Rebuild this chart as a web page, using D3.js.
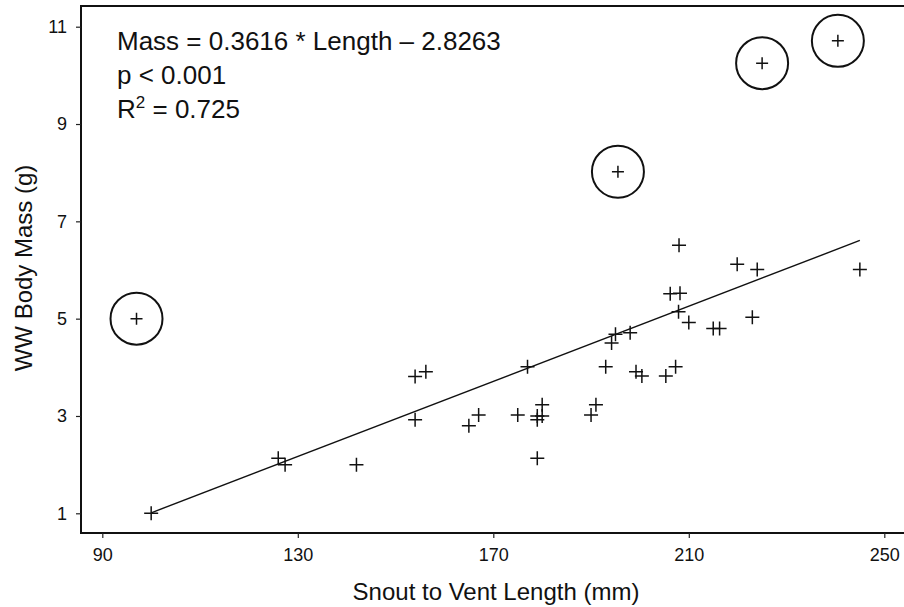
<!DOCTYPE html>
<html>
<head>
<meta charset="utf-8">
<script src="https://cdn.jsdelivr.net/npm/d3@7"></script>
<style>
  body { margin: 0; background: #fff; }
  text { font-family: "Liberation Sans", Arial, sans-serif; fill: #111; }
</style>
</head>
<body>
<script>
// snout-vent length (mm) and wet-weight body mass (g)
const lengthMm = [100, 126, 127.4, 142, 154, 156.2, 154, 165, 167, 175, 177, 179, 179, 180, 180, 179,
  190, 191, 193, 194.2, 195, 198, 199.2, 200.4, 205.3, 207.3, 206.2, 208.2, 208, 207.9, 210, 215, 216.3,
  219.9, 224, 223, 245];
const massG = [1.0, 2.13, 2.0, 2.0, 3.81, 3.91, 2.92, 2.8, 3.02, 3.02, 4.01, 3.0, 2.92, 3.23, 3.0, 2.13,
  3.02, 3.23, 4.01, 4.5, 4.68, 4.71, 3.91, 3.82, 3.82, 4.01, 5.51, 5.52, 6.51, 5.14, 4.92, 4.8, 4.8,
  6.12, 6.01, 5.03, 6.01];

// circled outliers
const outlierLength = [97, 195.5, 225, 240.5];
const outlierMass = [5.0, 8.02, 10.25, 10.71];

// fitted line as drawn on the figure
const fitRange = [100, 245];
const fitSlope = 0.0386;
const fitIntercept = -2.85;

const xTicks = [90, 130, 170, 210, 250];
const yTicks = [1, 3, 5, 7, 9, 11];
const statLines = ["Mass = 0.3616 * Length \u2013 2.8263", "p < 0.001"];

const width = 904, height = 607;
const frame = {left: 81, top: 6, right: 912, bottom: 533};

const svg = d3.select("body").append("svg")
  .attr("width", width)
  .attr("height", height);

const x = d3.scaleLinear().domain([90, 250]).range([102.3, 884.3]);
const y = d3.scaleLinear().domain([1, 11]).range([513.3, 26.7]);

// frame (right side runs past the edge of the picture)
svg.append("path")
  .attr("d", `M${frame.right},${frame.top}H${frame.left}V${frame.bottom}H${frame.right}`)
  .attr("fill", "none")
  .attr("stroke", "#111")
  .attr("stroke-width", 2);

// axes
const xAxis = svg.append("g")
  .attr("transform", `translate(0,${frame.bottom})`)
  .call(d3.axisBottom(x).tickValues(xTicks).tickSize(5).tickPadding(10));
const yAxis = svg.append("g")
  .attr("transform", `translate(${frame.left},0)`)
  .call(d3.axisLeft(y).tickValues(yTicks).tickSize(5).tickPadding(9));

[xAxis, yAxis].forEach(g => {
  g.select(".domain").remove();
  g.selectAll(".tick line").attr("stroke", "#222").attr("stroke-width", 1.2);
  g.selectAll(".tick text")
    .style("font-family", '"Liberation Sans", Arial, sans-serif')
    .style("font-size", "18px")
    .attr("fill", "#111");
});

// axis titles
svg.append("text")
  .attr("x", 496)
  .attr("y", 600)
  .attr("text-anchor", "middle")
  .style("font-size", "24px")
  .text("Snout to Vent Length (mm)");

svg.append("text")
  .attr("transform", "translate(32,268) rotate(-90)")
  .attr("text-anchor", "middle")
  .style("font-size", "24px")
  .text("WW Body Mass (g)");

// regression line
svg.append("line")
  .attr("x1", x(fitRange[0]))
  .attr("y1", y(fitSlope * fitRange[0] + fitIntercept))
  .attr("x2", x(fitRange[1]))
  .attr("y2", y(fitSlope * fitRange[1] + fitIntercept))
  .attr("stroke", "#111")
  .attr("stroke-width", 1.4);

// plus markers
function plus(g, xs, ys, size) {
  const h = size / 2;
  g.selectAll(null)
    .data(d3.range(xs.length))
    .enter().append("path")
    .attr("d", i => {
      const cx = x(xs[i]), cy = y(ys[i]);
      return `M${cx - h},${cy}H${cx + h}M${cx},${cy - h}V${cy + h}`;
    })
    .attr("stroke", "#111")
    .attr("stroke-width", 1.5)
    .attr("fill", "none");
}

const pts = svg.append("g").attr("class", "points");
plus(pts, lengthMm, massG, 14);

const outs = svg.append("g").attr("class", "outliers");
plus(outs, outlierLength, outlierMass, 12);
outs.selectAll("circle")
  .data(d3.range(outlierLength.length))
  .enter().append("circle")
  .attr("cx", i => x(outlierLength[i]))
  .attr("cy", i => y(outlierMass[i]))
  .attr("r", 26)
  .attr("fill", "none")
  .attr("stroke", "#111")
  .attr("stroke-width", 2);

// stats text
const stats = svg.append("g").style("font-size", "26px");
stats.selectAll(null)
  .data(statLines)
  .enter().append("text")
  .attr("x", 117)
  .attr("y", (d, i) => 50 + i * 34)
  .text(d => d);

const r2 = stats.append("text").attr("x", 117).attr("y", 118);
r2.append("tspan").text("R");
r2.append("tspan").attr("dy", -10).style("font-size", "17px").text("2");
r2.append("tspan").attr("dy", 10).text(" = 0.725");
</script>
</body>
</html>
